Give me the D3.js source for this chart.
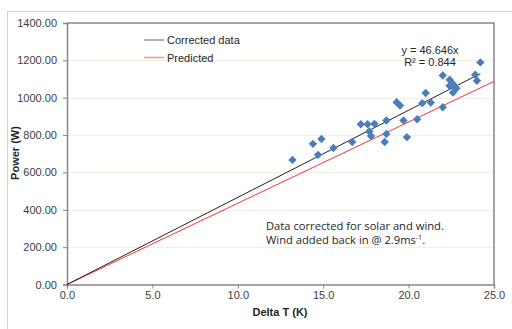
<!DOCTYPE html>
<html>
<head>
<meta charset="utf-8">
<script src="https://cdn.jsdelivr.net/npm/d3@7"></script>
<style>
  body { margin: 0; background: #fff; }
  svg { display: block; font-family: "Liberation Sans", Arial, sans-serif; }
</style>
</head>
<body>
<svg id="chart" width="512" height="329"></svg>
<script>
// measured points: delta T (K) and corrected power (W)
var deltaT = [13.2, 14.4, 14.7, 14.9, 15.6, 16.7, 17.2, 17.6, 18.0, 17.7, 17.8,
  18.7, 18.7, 18.6, 19.3, 19.5, 19.7, 19.9, 20.5, 20.8, 21.0, 21.3, 22.0, 22.0,
  22.4, 22.4, 22.6, 22.8, 22.6, 23.9, 24.0, 24.2];
var power = [667, 753, 694, 779, 731, 763, 858, 858, 860, 819, 795,
  878, 806, 763, 976, 958, 878, 789, 885, 971, 1025, 974, 949, 1119,
  1096, 1064, 1074, 1051, 1028, 1123, 1091, 1189];

// trend line through origin and the predicted line
var trendSlope = 46.646;
var trendR2 = 0.844;
var predictedSlope = 43.5;

var xTicks = [0, 5, 10, 15, 20, 25];
var yTicks = [0, 200, 400, 600, 800, 1000, 1200, 1400];

var svg = d3.select('#chart');

var margin = { top: 23, left: 67, right: 18, bottom: 44 };
var width = 494 - margin.left;
var height = 284.5 - margin.top;

// outer chart border
svg.append('rect')
  .attr('x', 7.5).attr('y', 11.5)
  .attr('width', 520).attr('height', 330)
  .attr('fill', 'none')
  .attr('stroke', '#d0d0d0');

var g = svg.append('g')
  .attr('transform', 'translate(' + margin.left + ',' + margin.top + ')');

var x = d3.scaleLinear().domain([0, 25]).range([0, width]);
var y = d3.scaleLinear().domain([0, 1400]).range([height, 0]);

// gridlines
g.selectAll('.grid')
  .data(yTicks.slice(1, -1))
  .enter().append('line')
  .attr('x1', 0).attr('x2', width)
  .attr('y1', function(d) { return Math.round(y(d)) + 0.5; })
  .attr('y2', function(d) { return Math.round(y(d)) + 0.5; })
  .attr('stroke', '#efefe6');

// axes
var xAxis = g.append('g')
  .attr('transform', 'translate(0,' + height + ')')
  .call(d3.axisBottom(x).tickValues(xTicks).tickSize(4).tickPadding(3)
    .tickFormat(d3.format('.1f')));
var yAxis = g.append('g')
  .call(d3.axisLeft(y).tickValues(yTicks).tickSize(4).tickPadding(6)
    .tickFormat(d3.format('.2f')));

[xAxis, yAxis].forEach(function(a) {
  a.select('.domain').attr('stroke', '#868686').attr('stroke-width', 1.5);
  a.selectAll('.tick line').attr('stroke', '#868686');
  a.selectAll('.tick text')
    .attr('fill', '#404040')
    .attr('font-size', '11px')
    .attr('font-family', '"Liberation Sans", Arial, sans-serif');
});

// plot frame top and right
g.append('path')
  .attr('d', 'M0,0H' + width + 'V' + height)
  .attr('fill', 'none')
  .attr('stroke', '#868686')
  .attr('stroke-width', 1.5);

// predicted line over the whole axis
g.append('line')
  .attr('x1', x(0)).attr('y1', y(0))
  .attr('x2', x(25)).attr('y2', y(25 * predictedSlope))
  .attr('stroke', '#ff3333')
  .attr('stroke-width', 1);

// trend line up to the largest delta T
var xMax = d3.max(deltaT);
g.append('line')
  .attr('x1', x(0)).attr('y1', y(0))
  .attr('x2', x(xMax)).attr('y2', y(xMax * trendSlope))
  .attr('stroke', '#222')
  .attr('stroke-width', 1);

// diamond markers
var diamond = d3.symbol().type(d3.symbolDiamond2).size(45);
g.selectAll('.pt')
  .data(deltaT)
  .enter().append('path')
  .attr('d', diamond)
  .attr('transform', function(d, i) {
    return 'translate(' + x(d) + ',' + y(power[i]) + ')';
  })
  .attr('fill', '#4a7ebb');

// legend
var legend = [
  { label: 'Corrected data', color: '#999999' },
  { label: 'Predicted', color: '#ff9090' }
];
legend.forEach(function(d, i) {
  var ly = 40 + i * 17.5;
  svg.append('line')
    .attr('x1', 144).attr('x2', 164)
    .attr('y1', ly).attr('y2', ly)
    .attr('stroke', d.color).attr('stroke-width', 1.5);
  svg.append('text')
    .attr('x', 167).attr('y', ly + 4)
    .attr('font-size', '11px')
    .attr('fill', '#262626')
    .text(d.label);
});

// trend equation
svg.append('text')
  .attr('x', 430).attr('y', 54)
  .attr('text-anchor', 'middle')
  .attr('font-size', '11px')
  .attr('fill', '#262626')
  .text('y = ' + trendSlope + 'x');
svg.append('text')
  .attr('x', 430).attr('y', 66)
  .attr('text-anchor', 'middle')
  .attr('font-size', '11px')
  .attr('fill', '#262626')
  .text('R\u00b2 = ' + trendR2);

// annotation
var note = svg.append('text')
  .attr('font-family', '"Open Sans", "Noto Sans", sans-serif')
  .attr('font-size', '11.2px')
  .attr('fill', '#262626');
note.append('tspan').attr('x', 266).attr('y', 230)
  .text('Data corrected for solar and wind.');
var l2 = note.append('tspan').attr('x', 266).attr('y', 244);
l2.append('tspan').text('Wind added back in @ 2.9ms');
l2.append('tspan').attr('dy', -4).attr('font-size', '7px').text('-1');
l2.append('tspan').attr('dy', 4).text('.');

// axis titles
svg.append('text')
  .attr('x', 280).attr('y', 316)
  .attr('text-anchor', 'middle')
  .attr('font-size', '11px')
  .attr('font-weight', 'bold')
  .attr('fill', '#262626')
  .text('Delta T (K)');
svg.append('text')
  .attr('transform', 'translate(19,153) rotate(-90)')
  .attr('text-anchor', 'middle')
  .attr('font-size', '11px')
  .attr('font-weight', 'bold')
  .attr('fill', '#262626')
  .text('Power (W)');
</script>
</body>
</html>
